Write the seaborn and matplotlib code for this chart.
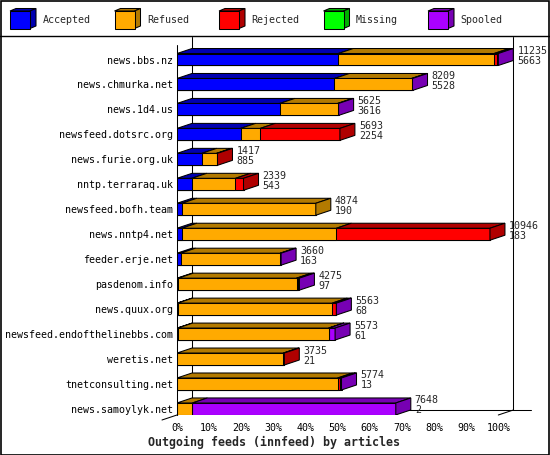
import matplotlib
matplotlib.use("Agg")
import matplotlib.pyplot as plt
from matplotlib.patches import Polygon, Rectangle
from matplotlib.lines import Line2D
import seaborn as sns
import pandas as pd
import numpy as np

# hosts, in the order shown (sorted by the second number)
hosts = ["news.bbs.nz", "news.chmurka.net", "news.1d4.us", "newsfeed.dotsrc.org",
         "news.furie.org.uk", "nntp.terraraq.uk", "newsfeed.bofh.team", "news.nntp4.net",
         "feeder.erje.net", "pasdenom.info", "news.quux.org", "newsfeed.endofthelinebbs.com",
         "weretis.net", "tnetconsulting.net", "news.samoylyk.net"]

# percentages of offered articles
accepted = [50.2, 49.0, 32.0, 19.8, 7.7, 4.6, 1.5, 1.5, 1.1, 0.4, 0.2, 0.2, 0.0, 0.0, 0.0]
refused  = [48.5, 24.0, 18.0, 6.1, 4.6, 13.6, 41.7, 48.1, 31.0, 36.8, 48.1, 47.0, 33.1, 50.0, 4.8]
rejected = [1.0, 0.0, 0.0, 24.8, 0.3, 2.5, 0.0, 47.8, 0.0, 0.6, 1.1, 0.1, 0.3, 0.7, 0.0]
missing  = [0.0] * 15
spooled  = [0.3, 0.3, 0.3, 0.0, 0.0, 0.0, 0.0, 0.0, 0.3, 0.3, 0.2, 1.9, 0.0, 0.5, 63.3]

offered = [11235, 8209, 5625, 5693, 1417, 2339, 4874, 10946, 3660, 4275, 5563, 5573, 3735, 5774, 7648]
second  = [5663, 5528, 3616, 2254, 885, 543, 190, 183, 163, 97, 68, 61, 21, 13, 2]

series = ["Accepted", "Refused", "Rejected", "Missing", "Spooled"]
front = ["#0000ff", "#ffaa00", "#ff0000", "#00ff00", "#aa00ff"]
shade = ["#0000b0", "#b37a00", "#b00000", "#00b000", "#7700b3"]

df = pd.DataFrame({"host": hosts, "Accepted": accepted, "Refused": refused,
                   "Rejected": rejected, "Missing": missing, "Spooled": spooled})

W, H = 550, 455
PX = 3.213          # pixels per percent
DX = 15 / PX        # depth in percent
DY = 0.2            # depth in rows
BH = 0.48           # bar height in rows
MONO = "DejaVu Sans Mono"

sns.set_style("white")
plt.rcParams["font.family"] = [MONO, "DejaVu Sans"]

fig = plt.figure(figsize=(W / 100, H / 100), dpi=100)
ax = fig.add_axes([177 / W, (H - 415) / H, 368 / W, 378 / H])
ax.set_facecolor("none")

# stacked bars: draw cumulative totals from the outermost segment inwards
cum = df[series].cumsum(axis=1)
for k in range(len(series) - 1, -1, -1):
    sns.barplot(x=cum[series[k]], y=df["host"], orient="y", color=front[k], saturation=1,
                width=BH, edgecolor="black", linewidth=0.75, ax=ax, zorder=3)

# 3D top faces and end faces
for i in range(len(hosts)):
    top = i - BH / 2
    left = 0.0
    last = None
    for k, s in enumerate(series):
        v = df.loc[i, s]
        if v <= 0:
            continue
        right = left + v
        ax.add_patch(Polygon([(left, top), (right, top), (right + DX, top - DY), (left + DX, top - DY)],
                             closed=True, facecolor=shade[k], edgecolor="black", linewidth=0.75, zorder=3))
        left = right
        last = k
    ax.add_patch(Polygon([(left, top), (left + DX, top - DY), (left + DX, top - DY + BH), (left, top + BH)],
                         closed=True, facecolor=shade[last], edgecolor="black", linewidth=0.75, zorder=3))
    ax.annotate(str(offered[i]), xy=(left + DX, i), xytext=(4, 8.5), textcoords="offset pixels",
                ha="left", va="center", fontsize=7.2, family=MONO)
    ax.annotate(str(second[i]), xy=(left + DX, i), xytext=(4, -1.5), textcoords="offset pixels",
                ha="left", va="center", fontsize=7.2, family=MONO)

# axes frame (pseudo 3D walls)
y_top = (37 - 59.5) / 24.96
y_front = (415 - 59.5) / 24.96
y_back = y_front - DY
kw = dict(color="black", linewidth=0.75, clip_on=False, zorder=2)
ax.plot([0, 0], [(45 - 59.5) / 24.96, y_front], **kw)
ax.plot([DX, DX], [y_top, y_back], **kw)
ax.plot([100 + DX, 100 + DX], [y_top, y_back], **kw)
ax.plot([DX, 100 + DX + 18 / PX], [y_back, y_back], **kw)
ax.plot([100, 100 + DX], [y_front, y_back], **kw)
ax.plot([-DX, DX], [y_front + DY, y_back], **kw)

ax.set_xlim(0, 368 / PX)
ax.set_ylim(y_front, y_top)
ax.set_xticks(np.arange(0, 101, 10))
ax.set_xticklabels([f"{v}%" for v in range(0, 101, 10)], fontsize=7.2, family=MONO)
ax.set_yticks(range(len(hosts)))
ax.set_yticklabels(hosts, fontsize=7.2, family=MONO)
ax.tick_params(axis="x", direction="out", length=3.6, width=0.75, pad=2, colors="black")
ax.tick_params(axis="y", length=0, pad=3, colors="black")
for sp in ax.spines.values():
    sp.set_visible(False)
ax.set_xlabel("")
ax.set_ylabel("")

fig.text(274 / W, 1 - 442 / H, "Outgoing feeds (innfeed) by articles", ha="center", va="center",
         fontsize=8.4, fontweight="bold", family=MONO)

# legend with little cubes
leg = fig.add_axes([0, 1 - 35 / H, 1, 35 / H])
leg.set_xlim(0, W)
leg.set_ylim(35, 0)
leg.axis("off")
for k, s in enumerate(series):
    x0 = 10 + 104.5 * k
    y0, y1 = 11, 28.5
    leg.add_patch(Polygon([(x0, y0), (x0 + 20, y0), (x0 + 26, y0 - 2.5), (x0 + 6, y0 - 2.5)],
                          closed=True, facecolor=shade[k], edgecolor="black", linewidth=0.75))
    leg.add_patch(Polygon([(x0 + 20, y0), (x0 + 26, y0 - 2.5), (x0 + 26, y1 - 2.5), (x0 + 20, y1)],
                          closed=True, facecolor=shade[k], edgecolor="black", linewidth=0.75))
    leg.add_patch(Rectangle((x0, y0), 20, y1 - y0, facecolor=front[k], edgecolor="black", linewidth=0.75))
    leg.text(x0 + 32.5, 20, s, ha="left", va="center", fontsize=7.2, family=MONO)

# outer border and separator
fig.add_artist(Rectangle((0.5 / W, 0.5 / H), 1 - 1.5 / W, 1 - 1.5 / H, transform=fig.transFigure,
                         fill=False, edgecolor="black", linewidth=1.2))
fig.add_artist(Line2D([0, 1], [1 - 35.5 / H, 1 - 35.5 / H], transform=fig.transFigure,
                      color="black", linewidth=1.0))

fig.savefig("out.png", dpi=100)
plt.close(fig)
